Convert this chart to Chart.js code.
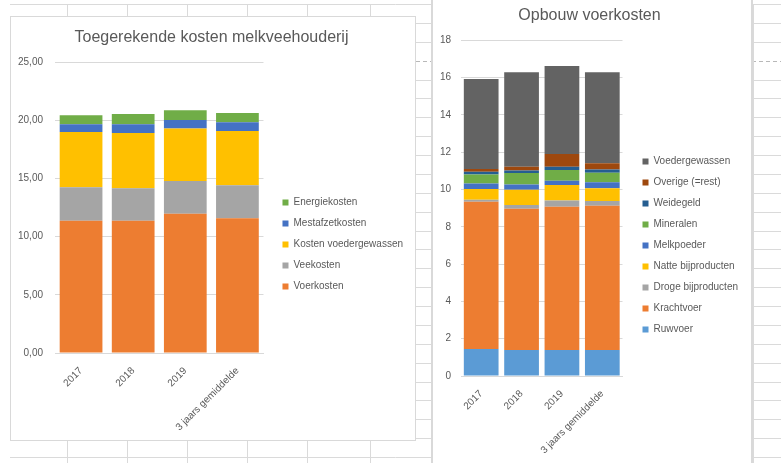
<!DOCTYPE html>
<html>
<head>
<meta charset="utf-8">
<script src="https://cdn.jsdelivr.net/npm/chart.js@4.4.1/dist/chart.umd.min.js"></script>
<style>
  html, body { margin: 0; padding: 0; background: #fff; }
  body { width: 781px; height: 463px; position: relative; overflow: hidden; }
  #sheet { position: absolute; left: 0; top: 0; }
  .chart-box { position: absolute; background: #fff; }
  #boxLeft { left: 10px; top: 16px; width: 406px; height: 425px; box-shadow: inset 0 0 0 1px #d9d9d9; }
  #boxRight { left: 431px; top: 0; width: 322px; height: 463px; box-shadow: inset 2px 0 #d9d9d9, inset -2px 0 #d9d9d9; }
  canvas { display: block; }
</style>
</head>
<body>
<canvas id="sheet" width="781" height="463"></canvas>
<div class="chart-box" id="boxLeft"><canvas id="leftChart" width="406" height="425"></canvas></div>
<div class="chart-box" id="boxRight"><canvas id="rightChart" width="322" height="463"></canvas></div>

<script>
// categories (same for both charts)
const categories = ['2017', '2018', '2019', '3 jaars gemiddelde'];

// Toegerekende kosten melkveehouderij
const voerkosten = [11.36, 11.36, 11.98, 11.59];
const veekosten = [2.89, 2.80, 2.81, 2.83];
const kostenVoedergewassen = [4.75, 4.75, 4.52, 4.66];
const mestafzetkosten = [0.66, 0.75, 0.72, 0.75];
const energiekosten = [0.79, 0.88, 0.83, 0.80];

// Opbouw voerkosten
const ruwvoer = [1.45, 1.40, 1.40, 1.40];
const krachtvoer = [7.89, 7.56, 7.67, 7.72];
const drogeBijproducten = [0.11, 0.20, 0.34, 0.26];
const natteBijproducten = [0.57, 0.82, 0.83, 0.69];
const melkpoeder = [0.30, 0.29, 0.23, 0.31];
const mineralen = [0.48, 0.61, 0.57, 0.52];
const weidegeld = [0.15, 0.14, 0.18, 0.17];
const overige = [0.14, 0.20, 0.68, 0.33];
const voedergewassen = [4.83, 5.06, 4.72, 4.88];

const FONT = '"Liberation Sans", Arial, sans-serif';
const TEXT = '#595959';
const GRID = '#d9d9d9';

// spreadsheet cells behind the charts
function drawSheet() {
  const ctx = document.getElementById('sheet').getContext('2d');
  const rowH = 18.875;
  const cols = [67, 127, 187, 247, 307, 370, 431, 753];
  ctx.lineWidth = 1;
  for (let k = 0; k < 25; k++) {
    const y = Math.round(4 + rowH * k) + 0.5;
    ctx.setLineDash(k === 3 ? [4, 3] : []);
    ctx.strokeStyle = k === 3 ? '#b8b8b8' : '#dadada';
    ctx.beginPath();
    ctx.moveTo(10, y);
    ctx.lineTo(781, y);
    ctx.stroke();
  }
  ctx.setLineDash([]);
  ctx.strokeStyle = '#dadada';
  cols.forEach((x) => {
    ctx.beginPath();
    ctx.moveTo(x + 0.5, 4);
    ctx.lineTo(x + 0.5, 463);
    ctx.stroke();
  });
}

// Excel centres the legend a bit lower than Chart.js does
const legendShift = {
  id: 'legendShift',
  afterLayout(chart, args, opts) {
    const legend = chart.legend;
    if (!legend) return;
    legend.top += opts.by;
    legend.bottom += opts.by;
  },
};

function stackedChart(canvasId, cfg) {
  return new Chart(document.getElementById(canvasId), {
    type: 'bar',
    data: {
      labels: categories,
      datasets: cfg.series.map(([label, data, color]) => ({
        label,
        data,
        backgroundColor: color,
        borderWidth: 0,
        barPercentage: cfg.barPct,
        categoryPercentage: 1,
      })),
    },
    plugins: [legendShift],
    options: {
      responsive: false,
      animation: false,
      devicePixelRatio: 1,
      layout: { padding: { right: cfg.padRight } },
      plugins: {
        legendShift: { by: cfg.legendShift },
        title: {
          display: true,
          text: cfg.title,
          color: TEXT,
          font: { family: FONT, size: 16, weight: 'normal' },
          padding: cfg.titlePadding,
        },
        legend: {
          position: 'right',
          reverse: true,
          maxWidth: 160,
          labels: {
            boxWidth: 6,
            boxHeight: 6,
            padding: 11,
            color: TEXT,
            font: { family: FONT, size: 10 },
          },
        },
        tooltip: { enabled: false },
      },
      scales: {
        x: {
          stacked: true,
          grid: { display: false },
          border: { color: GRID },
          ticks: {
            color: TEXT,
            font: { family: FONT, size: 10 },
            minRotation: 45,
            maxRotation: 45,
            autoSkip: false,
            padding: 4,
          },
          afterFit: (s) => { s.height = cfg.xHeight; },
        },
        y: {
          stacked: true,
          min: 0,
          max: cfg.yMax,
          grid: { color: GRID, drawTicks: false },
          border: { display: false },
          ticks: {
            stepSize: cfg.yStep,
            color: TEXT,
            font: { family: FONT, size: 10 },
            padding: cfg.yPad,
            callback: cfg.yFormat,
          },
          afterFit: (s) => { s.width = cfg.yWidth; },
        },
        gap: {
          position: 'right',
          grid: { display: false },
          ticks: { display: false },
          border: { display: false },
          afterFit: (s) => { s.width = cfg.gap; },
        },
      },
    },
  });
}

drawSheet();

stackedChart('leftChart', {
  title: 'Toegerekende kosten melkveehouderij',
  titlePadding: { top: 12, bottom: 15 },
  series: [
    ['Voerkosten', voerkosten, '#ED7D31'],
    ['Veekosten', veekosten, '#A5A5A5'],
    ['Kosten voedergewassen', kostenVoedergewassen, '#FFC000'],
    ['Mestafzetkosten', mestafzetkosten, '#4472C4'],
    ['Energiekosten', energiekosten, '#70AD47'],
  ],
  barPct: 0.82,
  yMax: 25,
  yStep: 5,
  yWidth: 45,
  yPad: 12,
  yFormat: (v) => v.toFixed(2).replace('.', ','),
  xHeight: 88,
  gap: 8,
  padRight: 3,
  legendShift: 16,
});

stackedChart('rightChart', {
  title: 'Opbouw voerkosten',
  titlePadding: { top: 6, bottom: 15 },
  series: [
    ['Ruwvoer', ruwvoer, '#5B9BD5'],
    ['Krachtvoer', krachtvoer, '#ED7D31'],
    ['Droge bijproducten', drogeBijproducten, '#A5A5A5'],
    ['Natte bijproducten', natteBijproducten, '#FFC000'],
    ['Melkpoeder', melkpoeder, '#4472C4'],
    ['Mineralen', mineralen, '#70AD47'],
    ['Weidegeld', weidegeld, '#255E91'],
    ['Overige (=rest)', overige, '#9E480E'],
    ['Voedergewassen', voedergewassen, '#636363'],
  ],
  barPct: 0.86,
  yMax: 18,
  yStep: 2,
  yWidth: 30,
  yPad: 10,
  yFormat: (v) => v,
  xHeight: 87,
  gap: 9,
  padRight: 5,
  legendShift: 14,
});
</script>
</body>
</html>
